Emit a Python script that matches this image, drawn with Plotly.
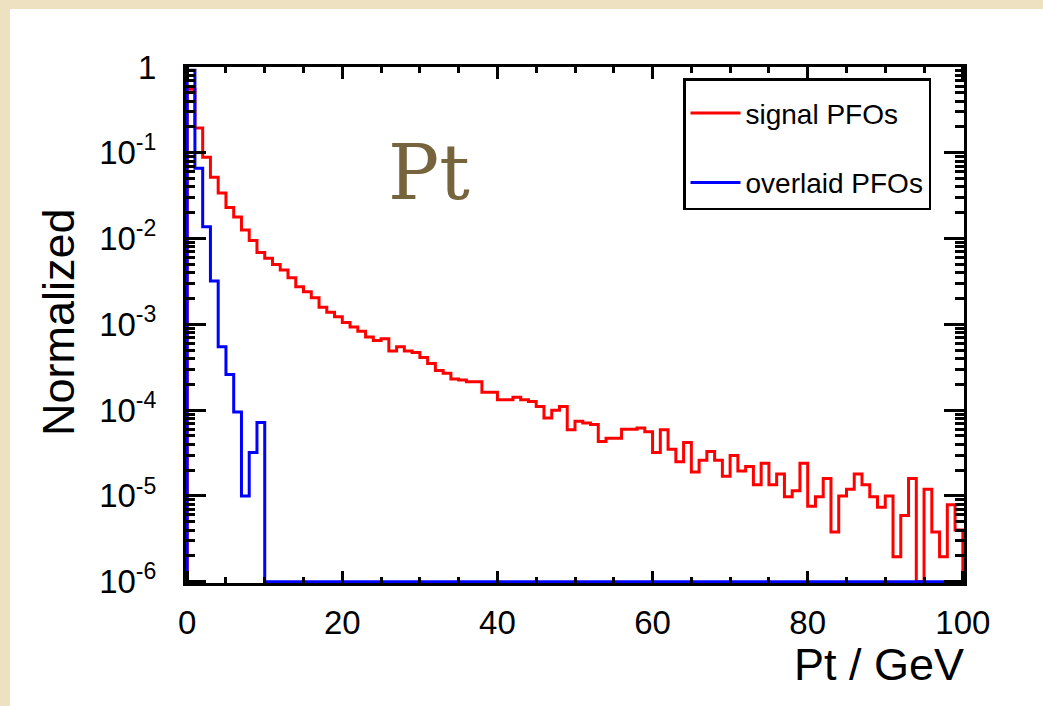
import numpy as np
import plotly.graph_objects as go

# ---------------- data ----------------
pt_min, pt_max = 0.0, 100.0  # GeV, 1 GeV bins

signal_pfos = [
    0.55, 0.195, 0.089, 0.052, 0.034, 0.023, 0.0178, 0.0126, 0.0095, 0.0069,
    0.0059, 0.0050, 0.0043, 0.0035, 0.00275, 0.0024, 0.00204, 0.00158, 0.00138, 0.00123,
    0.00105, 0.00093, 0.00083, 0.00071, 0.00065, 0.00068, 0.00049, 0.00055, 0.00049, 0.00047,
    0.00041, 0.00035, 0.00029, 0.00027, 0.00023, 0.000224, 0.000214, 0.000214, 0.000162, 0.000162,
    0.000132, 0.000132, 0.000141, 0.000132, 0.000126, 0.00011, 8.1e-5, 1.0e-4, 1.1e-4, 5.9e-5,
    7.4e-5, 7.1e-5, 6.8e-5, 4.3e-5, 4.7e-5, 4.7e-5, 6.0e-5, 6.0e-5, 6.2e-5, 5.6e-5,
    3.2e-5, 5.9e-5, 3.5e-5, 2.5e-5, 4.2e-5, 1.9e-5, 2.6e-5, 3.3e-5, 2.6e-5, 1.7e-5,
    2.95e-5, 1.95e-5, 2.2e-5, 1.35e-5, 2.4e-5, 1.35e-5, 1.8e-5, 9.8e-6, 1.15e-5, 2.4e-5,
    7.6e-6, 9.8e-6, 1.6e-5, 3.8e-6, 1.0e-5, 1.2e-5, 1.8e-5, 1.35e-5, 9.8e-6, 7.4e-6,
    1.0e-5, 1.95e-6, 5.9e-6, 1.6e-5, 0.0, 1.2e-5, 3.8e-6, 1.95e-6, 7.9e-6, 4.0e-6,
]

overlaid_pfos = [
    0.915, 0.066, 0.0137, 0.0032, 0.00055, 0.00026, 9.5e-5, 1.0e-5, 3.2e-5, 7.2e-5,
] + [0.0] * 90

legend_labels = ["signal PFOs", "overlaid PFOs"]
x_tick_vals = [0, 20, 40, 60, 80, 100]
y_tick_vals = [1e-6, 1e-5, 1e-4, 1e-3, 1e-2, 1e-1, 1]
y_tick_text = ["10<sup>-6</sup>", "10<sup>-5</sup>", "10<sup>-4</sup>", "10<sup>-3</sup>",
               "10<sup>-2</sup>", "10<sup>-1</sup>", "1"]
y_floor = 1e-6


def hist_path(values, floor):
    """ROOT-like histogram outline: edges with empty bins drawn at the frame floor."""
    n = len(values)
    edges = np.linspace(pt_min, pt_max, n + 1)
    v = np.asarray(values, dtype=float)
    v = np.where(v > 0, v, floor)
    x = np.concatenate([[edges[0]], edges[:-1], [edges[-1]]])
    y = np.concatenate([[floor], v, [floor]])
    return x, y


# minor tick positions (decoration only)
y_minor = [k * 10.0 ** e for e in range(-6, 0) for k in range(2, 10)]

FONT = "Liberation Sans, Arial, Helvetica, sans-serif"

fig = go.Figure()
for vals, name, color, grp in [
    (signal_pfos, legend_labels[0], "#ff0000", "g1"),
    (overlaid_pfos, legend_labels[1], "#0000ff", "g2"),
]:
    hx, hy = hist_path(vals, y_floor)
    fig.add_trace(go.Scatter(
        x=hx, y=hy, mode="lines", name=name, legendgroup=grp,
        line=dict(color=color, width=3, shape="hv"),
        hoverinfo="skip",
    ))

# white panel on beige page
fig.add_shape(type="rect", xref="paper", yref="paper",
              x0=(10 - 186) / 778, x1=1.2, y0=-0.3, y1=(583 - 9) / 516,
              fillcolor="white", line=dict(width=0), layer="below")

fig.update_layout(
    width=1043, height=706,
    margin=dict(l=186, r=79, t=67, b=123, autoexpand=False),
    paper_bgcolor="#ede1c2",
    plot_bgcolor="white",
    font=dict(family=FONT, color="black"),
    showlegend=True,
    legend=dict(
        x=(683 - 186) / 778, y=(583 - 78) / 516, xanchor="left", yanchor="top",
        bgcolor="white", bordercolor="black", borderwidth=2.5,
        font=dict(family=FONT, size=28, color="black"),
        traceorder="grouped", tracegroupgap=30, itemwidth=50,
        title=dict(text=" ", font=dict(size=6)),
    ),
    xaxis=dict(
        range=[-0.15, 100.15], showgrid=False, zeroline=False,
        showline=True, linecolor="black", linewidth=3, mirror="allticks",
        ticks="inside", ticklen=12, tickwidth=2.5, tickcolor="black",
        tickmode="array", tickvals=x_tick_vals,
        tickfont=dict(family=FONT, size=33, color="black"),
        ticklabelstandoff=8,
        minor=dict(ticks="inside", ticklen=6, tickwidth=2.5, tickcolor="black", dtick=5, showgrid=False),
    ),
    yaxis=dict(
        type="log", range=[-6.015, 0.0], showgrid=False, zeroline=False,
        showline=True, linecolor="black", linewidth=3, mirror="allticks",
        ticks="inside", ticklen=20, tickwidth=2.5, tickcolor="black",
        tickmode="array", tickvals=y_tick_vals, ticktext=y_tick_text,
        tickfont=dict(family=FONT, size=33, color="black"),
        ticklabelstandoff=20,
        minor=dict(ticks="inside", ticklen=9, tickwidth=2.5, tickcolor="black",
                   tickmode="array", tickvals=y_minor, showgrid=False),
    ),
)

# axis titles (ROOT style: x title right-aligned)
fig.add_annotation(text="Pt / GeV", xref="paper", yref="paper",
                   x=(966 - 186) / 778, y=(583 - 664) / 516, xanchor="right", yanchor="middle",
                   showarrow=False, font=dict(family=FONT, size=45, color="black"))
fig.add_annotation(text="Normalized", xref="paper", yref="paper",
                   x=(58 - 186) / 778, y=(583 - 322) / 516, xanchor="center", yanchor="middle",
                   textangle=-90, showarrow=False, font=dict(family=FONT, size=45, color="black"))
# big serif label
fig.add_annotation(text="Pt", xref="paper", yref="paper",
                   x=(429 - 186) / 778, y=(583 - 172) / 516, xanchor="center", yanchor="middle",
                   showarrow=False, font=dict(family="DejaVu Serif, serif", size=76, color="#76643c"))

fig.write_html("out.html")
